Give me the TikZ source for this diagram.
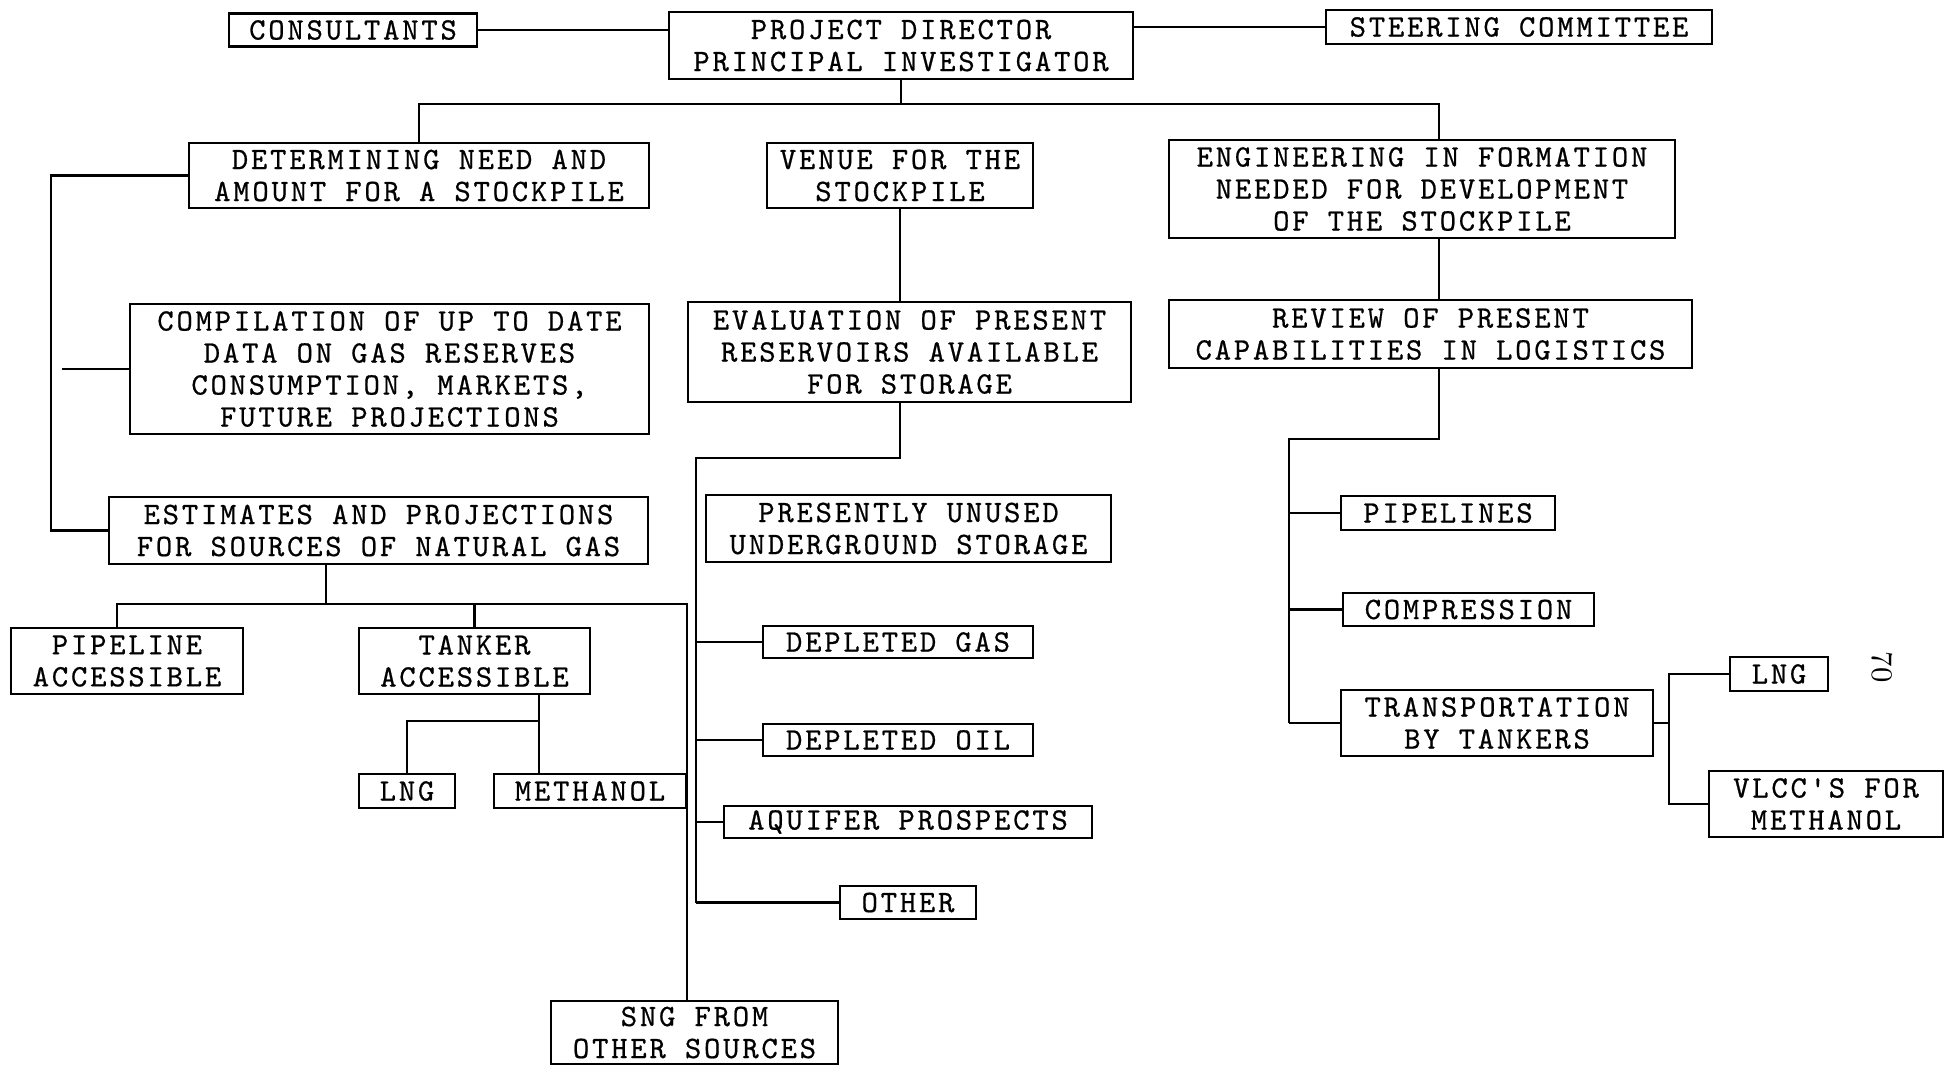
\documentclass[tikz,border=0pt]{standalone}
\usepackage{fontspec}
\setmonofont{lmmono10-regular}[Extension=.otf, LetterSpace=9, FakeBold=0.6]

\tikzset{
    orgbox/.style={draw, line width=0.8pt, align=center, inner sep=0pt,
        font=\ttfamily\fontsize{8.85pt}{9.1pt}\selectfont},
    link/.style={line width=0.8pt}
}

\begin{document}
\begin{tikzpicture}[x=0.1mm, y=-0.1mm]
    \useasboundingbox (0,0) rectangle (1945,1066);

    % ================= 1. top row =================
    \node[orgbox, minimum width=24.8mm, minimum height=3.3mm] (cons) at (353,30) {CONSULTANTS};
    \node[orgbox, minimum width=46.4mm, minimum height=6.7mm] (pd) at (901,45.5) {PROJECT DIRECTOR\\PRINCIPAL INVESTIGATOR};
    \node[orgbox, minimum width=38.6mm, minimum height=3.4mm] (steer) at (1519,27) {STEERING COMMITTEE};

    % ================= 2. three studies =================
    \node[orgbox, minimum width=46.0mm, minimum height=6.5mm] (need) at (419,175.5) {DETERMINING NEED AND\\AMOUNT FOR A STOCKPILE};
    \node[orgbox, minimum width=26.6mm, minimum height=6.5mm] (venue) at (900,175.5) {VENUE FOR THE\\STOCKPILE};
    \node[orgbox, minimum width=50.6mm, minimum height=9.8mm] (eng) at (1422,189) {ENGINEERING IN FORMATION\\NEEDED FOR DEVELOPMENT\\OF THE STOCKPILE};

    % ================= 3. second level =================
    \node[orgbox, minimum width=51.9mm, minimum height=13.0mm] (comp) at (389.5,369) {COMPILATION OF UP TO DATE\\DATA ON GAS RESERVES\\CONSUMPTION, MARKETS,\\FUTURE PROJECTIONS};
    \node[orgbox, minimum width=44.3mm, minimum height=10.0mm] (eval) at (909.5,352) {EVALUATION OF PRESENT\\RESERVOIRS AVAILABLE\\FOR STORAGE};
    \node[orgbox, minimum width=52.3mm, minimum height=6.8mm] (review) at (1430.5,334) {REVIEW OF PRESENT\\CAPABILITIES IN LOGISTICS};
    \node[orgbox, minimum width=53.9mm, minimum height=6.7mm] (est) at (378.5,530.5) {ESTIMATES AND PROJECTIONS\\FOR SOURCES OF NATURAL GAS};

    % ================= 4. sources of gas =================
    \node[orgbox, minimum width=23.2mm, minimum height=6.6mm] (pipeacc) at (127,661) {PIPELINE\\ACCESSIBLE};
    \node[orgbox, minimum width=23.1mm, minimum height=6.6mm] (tankacc) at (474.5,661) {TANKER\\ACCESSIBLE};
    \node[orgbox, minimum width=9.6mm, minimum height=3.4mm] (lnga) at (407,791) {LNG};
    \node[orgbox, minimum width=19.2mm, minimum height=3.4mm] (meth) at (590,791) {METHANOL};
    \node[orgbox, minimum width=28.7mm, minimum height=6.3mm] (sng) at (694.5,1032.5) {SNG FROM\\OTHER SOURCES};

    % ================= 5. storage =================
    \node[orgbox, minimum width=40.5mm, minimum height=6.7mm] (unused) at (908.5,528.5) {PRESENTLY UNUSED\\UNDERGROUND STORAGE};
    \node[orgbox, minimum width=27.0mm, minimum height=3.2mm] (dgas) at (898,642) {DEPLETED GAS};
    \node[orgbox, minimum width=27.0mm, minimum height=3.2mm] (doil) at (898,740) {DEPLETED OIL};
    \node[orgbox, minimum width=36.8mm, minimum height=3.2mm] (aquif) at (908,822) {AQUIFER PROSPECTS};
    \node[orgbox, minimum width=13.6mm, minimum height=3.3mm] (other) at (908,902.5) {OTHER};

    % ================= 6. logistics =================
    \node[orgbox, minimum width=21.4mm, minimum height=3.4mm] (pipes) at (1448,513) {PIPELINES};
    \node[orgbox, minimum width=25.1mm, minimum height=3.3mm] (compr) at (1468.5,609.5) {COMPRESSION};
    \node[orgbox, minimum width=31.2mm, minimum height=6.6mm] (transp) at (1497,723) {TRANSPORTATION\\BY TANKERS};
    \node[orgbox, minimum width=9.8mm, minimum height=3.4mm] (lngb) at (1779,674) {LNG};
    \node[orgbox, minimum width=23.4mm, minimum height=6.6mm] (vlcc) at (1826,804) {VLCC'S FOR\\METHANOL};

    % page number
    \node[font=\fontsize{8.5pt}{8.5pt}\selectfont, rotate=-90] (pageno) at (1882,667) {70};

    % ================= 7. connectors =================
    \coordinate (topbar) at (901,104);
    \coordinate (engx) at (1439,104);
    \coordinate (brk) at (51,175);
    \coordinate (compx) at (62,369);
    \coordinate (srcstem) at (326,604);
    \coordinate (srcline) at (687,604);
    \coordinate (lngbar) at (539,721);
    \coordinate (stor) at (696,458);
    \coordinate (logi) at (1289,439);
    \coordinate (tk) at (1669,724);

    \draw[link] (cons.east) -- (cons.east -| pd.west);
    \draw[link] (pd.east |- steer.west) -- (steer.west);
    \draw[link] (pd.south) -- (topbar);
    \draw[link] (need.north) |- (topbar) -| (engx |- eng.north);
    \draw[link] (venue.south) -- (venue.south |- eval.north);
    \draw[link] (engx |- eng.south) -- (engx |- review.north);

    \draw[link] (need.west) -- (need.west -| brk) |- (est.west);
    \draw[link] (compx) -- (comp.west);

    \draw[link] (srcstem |- est.south) -- (srcstem);
    \draw[link] ([xshift=-1mm]pipeacc.north) |- (srcline) -- (srcline |- sng.north);
    \draw[link] (tankacc.north) -- (tankacc.north |- srcline);
    \draw[link] (lngbar |- tankacc.south) -- (lngbar |- meth.north);
    \draw[link] (lngbar) -| (lnga.north);

    \draw[link] (venue.south |- eval.south) |- (stor) -- (stor |- other.west);
    \foreach \n in {dgas, doil, aquif, other} {
        \draw[link] (stor |- \n.west) -- (\n.west);
    }

    \draw[link] (engx |- review.south) |- (logi) -- (logi |- transp.west);
    \foreach \n in {pipes, compr, transp} {
        \draw[link] (logi |- \n.west) -- (\n.west);
    }
    \draw[link] (transp.east) -- (tk |- transp.east);
    \draw[link] (lngb.west) -| (tk |- vlcc.west) -- (vlcc.west);
\end{tikzpicture}
\end{document}
